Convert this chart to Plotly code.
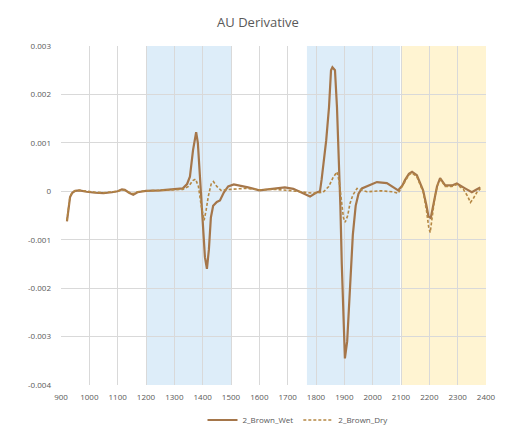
import plotly.graph_objects as go

# ---- data ----
wet_x = [921, 926, 932, 940, 950, 965, 990, 1020, 1050, 1080, 1100, 1115, 1125, 1140, 1155, 1170,
         1200, 1250, 1300, 1330, 1345, 1355, 1366, 1377, 1383, 1390, 1401, 1408, 1415, 1422, 1429,
         1437, 1450, 1461, 1475, 1490, 1510, 1530, 1560, 1600, 1630, 1660, 1690, 1720, 1750, 1779,
         1800, 1814, 1820, 1825, 1836, 1846, 1853, 1858, 1867, 1874, 1881, 1886, 1891, 1896, 1902,
         1910, 1920, 1930, 1940, 1950, 1962, 1990, 2015, 2050, 2072, 2090, 2105, 2114, 2128, 2139,
         2156, 2168, 2178, 2190, 2197, 2205, 2213, 2227, 2238, 2256, 2280, 2297, 2326, 2350, 2365, 2380]
wet_y = [-0.00062, -0.00035, -0.00012, -0.00003, 0.00001, 0.00002, -0.00001, -0.00003, -0.00004,
         -0.00002, 0.0, 0.00004, 0.00003, -0.00003, -0.00007, -0.00002,
         0.00001, 0.00002, 0.00004, 0.00006, 0.00015, 0.0003, 0.00085, 0.00122, 0.001, 0.0003,
         -0.00054, -0.00136, -0.0016, -0.0012, -0.00054,
         -0.0003, -0.00022, -0.00019, -0.00002, 0.0001, 0.00014, 0.00012, 0.00008, 0.00002, 0.00004,
         0.00007, 0.00008, 0.00005, -0.00004, -0.00011,
         -0.00003, 0.0, 0.00025, 0.0005, 0.00105, 0.00174, 0.0025, 0.00256, 0.0025, 0.00174, 0.0007,
         -0.0003, -0.0015, -0.0026, -0.00345,
         -0.0031, -0.0019, -0.0009, -0.0003, -0.00005, 0.00006, 0.00012, 0.00019, 0.00017, 0.00008,
         0.00002, 0.00012, 0.00023, 0.00036, 0.0004,
         0.00033, 0.00015, 0.00002, -0.0003, -0.00052, -0.00055, -0.0003, 0.0001, 0.00027, 0.00012,
         0.00012, 0.00016, 0.00006, -0.00002, 0.00003, 0.00008]

dry_x = [921, 926, 932, 940, 950, 965, 990, 1020, 1050, 1080, 1100, 1115, 1125, 1140, 1155, 1170,
         1200, 1250, 1300, 1330, 1350, 1365, 1375, 1385, 1395, 1405, 1412, 1420, 1430, 1438, 1450,
         1465, 1500, 1550, 1600, 1650, 1700, 1750, 1790, 1825, 1845, 1860, 1874, 1882, 1890, 1897,
         1903, 1912, 1920, 1930, 1945, 1980, 2030, 2070, 2090, 2105, 2114, 2128, 2139, 2156, 2168,
         2178, 2190, 2198, 2203, 2210, 2220, 2230, 2240, 2256, 2280, 2297, 2320, 2335, 2345, 2355,
         2370, 2380]
dry_y = [-0.0006, -0.00033, -0.0001, -0.00002, 0.00001, 0.00002, 0.0, -0.00002, -0.00003, -0.00002,
         0.0, 0.00003, 0.00002, -0.00002, -0.00005, -0.00001,
         0.00001, 0.00002, 0.00003, 0.00004, 0.0001, 0.00022, 0.00025, 0.0001, -0.0003, -0.0006,
         -0.0004, -0.0001, 0.00015, 0.0002, 0.0001,
         0.00002, 0.00004, 0.00006, 0.00003, 0.00004, 0.00002, -0.00002, -0.00004, -0.00002, 0.0001,
         0.00028, 0.0004, 0.0002, -0.0002, -0.00055,
         -0.00064, -0.0005, -0.00025, -0.00008, 0.00006, -0.00001, 0.00001, -0.00001, -0.00004, 0.0001,
         0.0002, 0.00034, 0.00038, 0.0003, 0.00013,
         0.0, -0.0004, -0.00075, -0.00085, -0.0005, -0.0001, 0.00015, 0.00024, 0.0001, 0.0001, 0.00014,
         0.00004, -0.0001, -0.00023, -0.00015,
         0.0, 0.00005]

x_ticks = list(range(900, 2401, 100))
y_ticks = [0.003, 0.002, 0.001, 0.0, -0.001, -0.002, -0.003, -0.004]
y_tick_labels = ["0.003", "0.002", "0.001", "0", "-0.001", "-0.002", "-0.003", "-0.004"]

blue_bands = [(1200, 1500), (1768, 2097)]
yellow_bands = [(2100, 2400)]

# ---- figure ----
fig = go.Figure()

fig.add_trace(go.Scatter(x=wet_x, y=wet_y, mode="lines", name="2_Brown_Wet",
                         line=dict(color="#A5764A", width=2.2)))
fig.add_trace(go.Scatter(x=dry_x, y=dry_y, mode="lines", name="2_Brown_Dry",
                         line=dict(color="#B58743", width=1.6, dash="3px,2px")))

shapes = []
for a, b in blue_bands:
    shapes.append(dict(type="rect", xref="x", yref="y", x0=a, x1=b, y0=-0.004, y1=0.003,
                       fillcolor="#DDEDF9", line=dict(width=0), layer="below"))
for a, b in yellow_bands:
    shapes.append(dict(type="rect", xref="x", yref="y", x0=a, x1=b, y0=-0.004, y1=0.003,
                       fillcolor="#FFF4D2", line=dict(width=0), layer="below"))

fig.update_layout(
    width=515, height=440,
    margin=dict(l=53, r=37, t=38, b=63, autoexpand=False),
    paper_bgcolor="white", plot_bgcolor="white",
    shapes=shapes,
    title=dict(text="AU Derivative", x=250 / 515, xref="container", xanchor="center",
               y=1 - 14 / 440, yref="container", yanchor="middle",
               font=dict(family="Open Sans, Arial, sans-serif", size=13, color="#595959")),
    font=dict(family="Open Sans, Arial, sans-serif", size=8, color="#595959"),
    showlegend=True,
    legend=dict(orientation="h", x=290 / 515, xref="container", xanchor="center",
                y=1 - 412 / 440, yref="container", yanchor="middle",
                font=dict(size=8, color="#595959")),
    xaxis=dict(range=[900, 2400], tickvals=x_ticks, showgrid=True, gridcolor="#D9D9D9",
               gridwidth=1, zeroline=False, showline=False, ticks="", ticklabelstandoff=6,
               tickfont=dict(size=8, color="#595959"), fixedrange=True),
    yaxis=dict(range=[-0.004, 0.003], tickvals=y_ticks, ticktext=y_tick_labels, showgrid=True,
               gridcolor="#D9D9D9", gridwidth=1, zeroline=False, showline=False, ticks="",
               ticklabelstandoff=9,
               tickfont=dict(size=8, color="#595959"), fixedrange=True),
)

fig.write_html("out.html")
